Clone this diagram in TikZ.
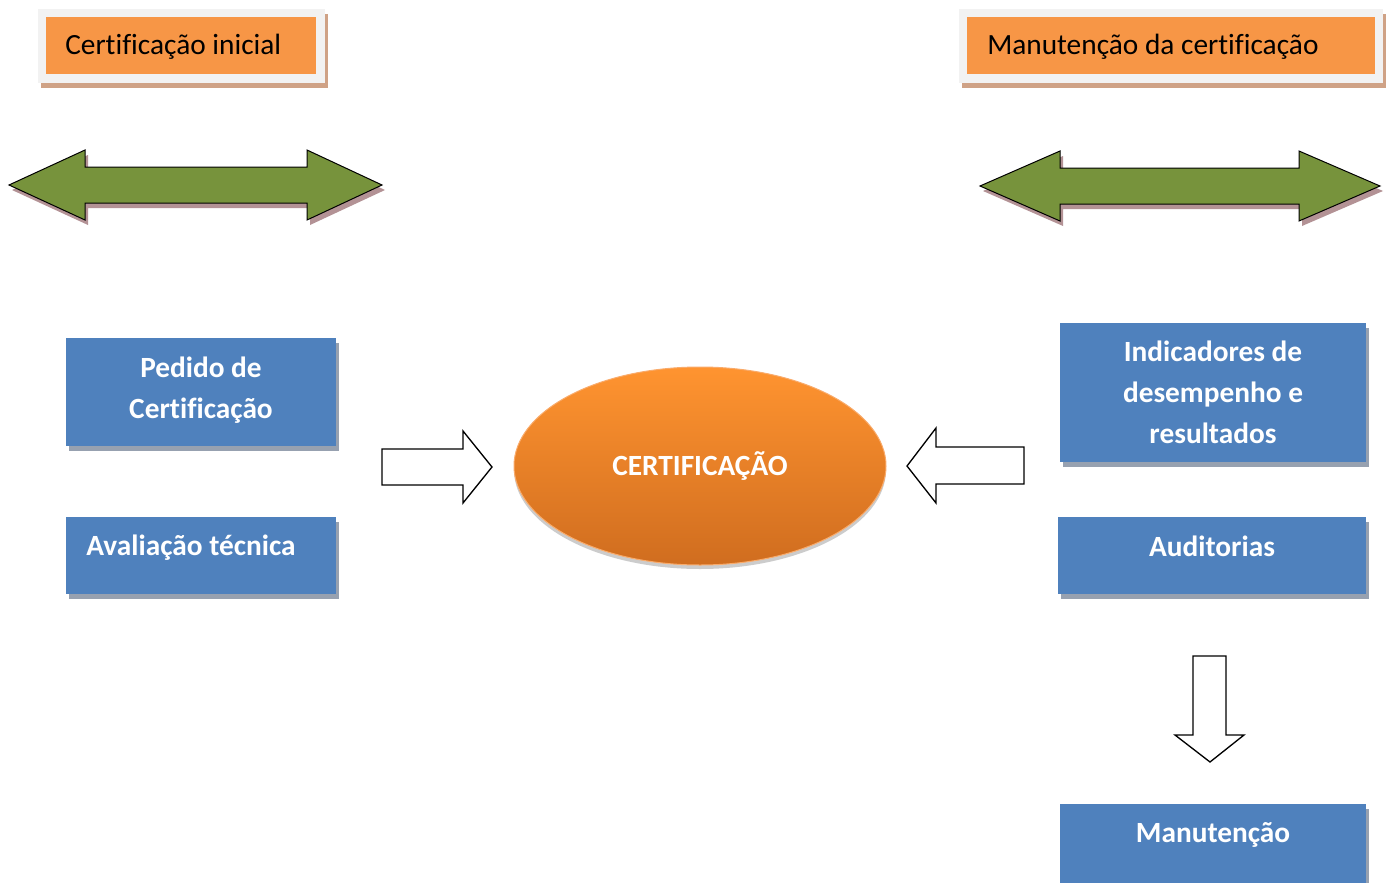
\documentclass[tikz,border=0pt]{standalone}
\usepackage{fontspec}
\setmainfont{Carlito}[Ligatures=NoCommon]
\usetikzlibrary{positioning,shapes.geometric,shadows}

\definecolor{laranja}{HTML}{F79646}
\definecolor{moldura}{HTML}{F2F2F2}
\definecolor{sombratit}{HTML}{CFA286}
\definecolor{azul}{HTML}{4F81BD}
\definecolor{sombraazul}{HTML}{97A1B0}
\definecolor{verde}{HTML}{77933C}
\definecolor{sombraverde}{HTML}{B39295}
\definecolor{ovaltopo}{HTML}{FF9430}
\definecolor{ovalbase}{HTML}{D06D1F}

% double arrow: left tip, left head back, right head back, right tip, middle y
\newcommand\duplaseta[5]{(#1,#5) -- (#2,#5-35) -- (#2,#5-18) -- (#3,#5-18) -- (#3,#5-35) -- (#4,#5) -- (#3,#5+35) -- (#3,#5+18) -- (#2,#5+18) -- (#2,#5+35) -- cycle}

\tikzset{
  titulo/.style={font=\fontsize{22}{26}\selectfont, anchor=west, inner sep=0pt},
  caixa/.style={fill=azul, inner sep=0pt,
    drop shadow={shadow xshift=2.25pt, shadow yshift=-3.75pt, fill=sombraazul, opacity=1}},
  rotulo/.style={font=\bfseries\fontsize{22}{30.75}\selectfont, text=white, align=center, inner sep=0pt},
  bloco/.style={draw=black, fill=white, line width=1pt, line join=miter},
}

\begin{document}
\begin{tikzpicture}[x=0.75pt,y=-0.75pt]
\useasboundingbox (0,0) rectangle (1392,882);

% titles
\fill[sombratit] (41,14) rectangle (328,88);
\fill[moldura] (38,9) rectangle (325,83);
\fill[laranja] (46,17) rectangle (316,74);
\node[titulo] (tinicial) at (65,47) {Certificação inicial};

\fill[sombratit] (962,14) rectangle (1386,88);
\fill[moldura] (959,9) rectangle (1383,83);
\fill[laranja] (967,17) rectangle (1375,74);
\node[titulo] (tmanut) at (987,47) {Manutenção da certificação};

% green double arrows
\fill[sombraverde, shift={(3,5)}] \duplaseta{9}{85}{307}{382}{185};
\filldraw[fill=verde, draw=black, line width=0.75pt] \duplaseta{9}{85}{307}{382}{185};
\fill[sombraverde, shift={(3,5)}] \duplaseta{980}{1060}{1299}{1380}{186};
\filldraw[fill=verde, draw=black, line width=0.75pt] \duplaseta{980}{1060}{1299}{1380}{186};

% blue boxes
\node[caixa, minimum width=202.5pt, minimum height=81pt] (pedido) at (201,392) {};
\node[rotulo] at (201,390) {Pedido de\\Certificação};
\node[caixa, minimum width=202.5pt, minimum height=57.75pt] (aval) at (201,555.5) {};
\node[rotulo] (avaltxt) at (191,548) {Avaliação técnica};

\node[caixa, minimum width=229.5pt, minimum height=104.25pt] (indic) at (1213,392.5) {};
\node[rotulo] at (indic) {Indicadores de\\desempenho e\\resultados};
\node[caixa, minimum width=231pt, minimum height=57.75pt] (audit) at (1212,555.5) {};
\node[rotulo] (audittxt) at (1212,546) {Auditorias};
\node[caixa, minimum width=229.5pt, minimum height=60pt] (manut) at (1213,844) {};
\node[rotulo] (manuttxt) at (1213,835) {Manutenção};

% centre
\node[ellipse, draw=laranja!80, line width=0.75pt, top color=ovaltopo, bottom color=ovalbase,
  minimum width=279pt, minimum height=148.5pt, inner sep=0pt,
  drop shadow={shadow xshift=0pt, shadow yshift=-3pt, fill=black, opacity=0.2}]
  (cert) at (700,466) {};
\node[rotulo] (certtxt) at (cert) {CERTIFICAÇÃO};

% white block arrows
\draw[bloco] (382,449) -- (463,449) -- (463,431) -- (492,467) -- (463,503) -- (463,485) -- (382,485) -- cycle;
\draw[bloco] (907,466) -- (936,428) -- (936,447) -- (1024,447) -- (1024,484) -- (936,484) -- (936,503) -- cycle;
\draw[bloco] (1193,656) -- (1226,656) -- (1226,735) -- (1244,735) -- (1210,762) -- (1175,735) -- (1193,735) -- cycle;
\end{tikzpicture}
\end{document}
